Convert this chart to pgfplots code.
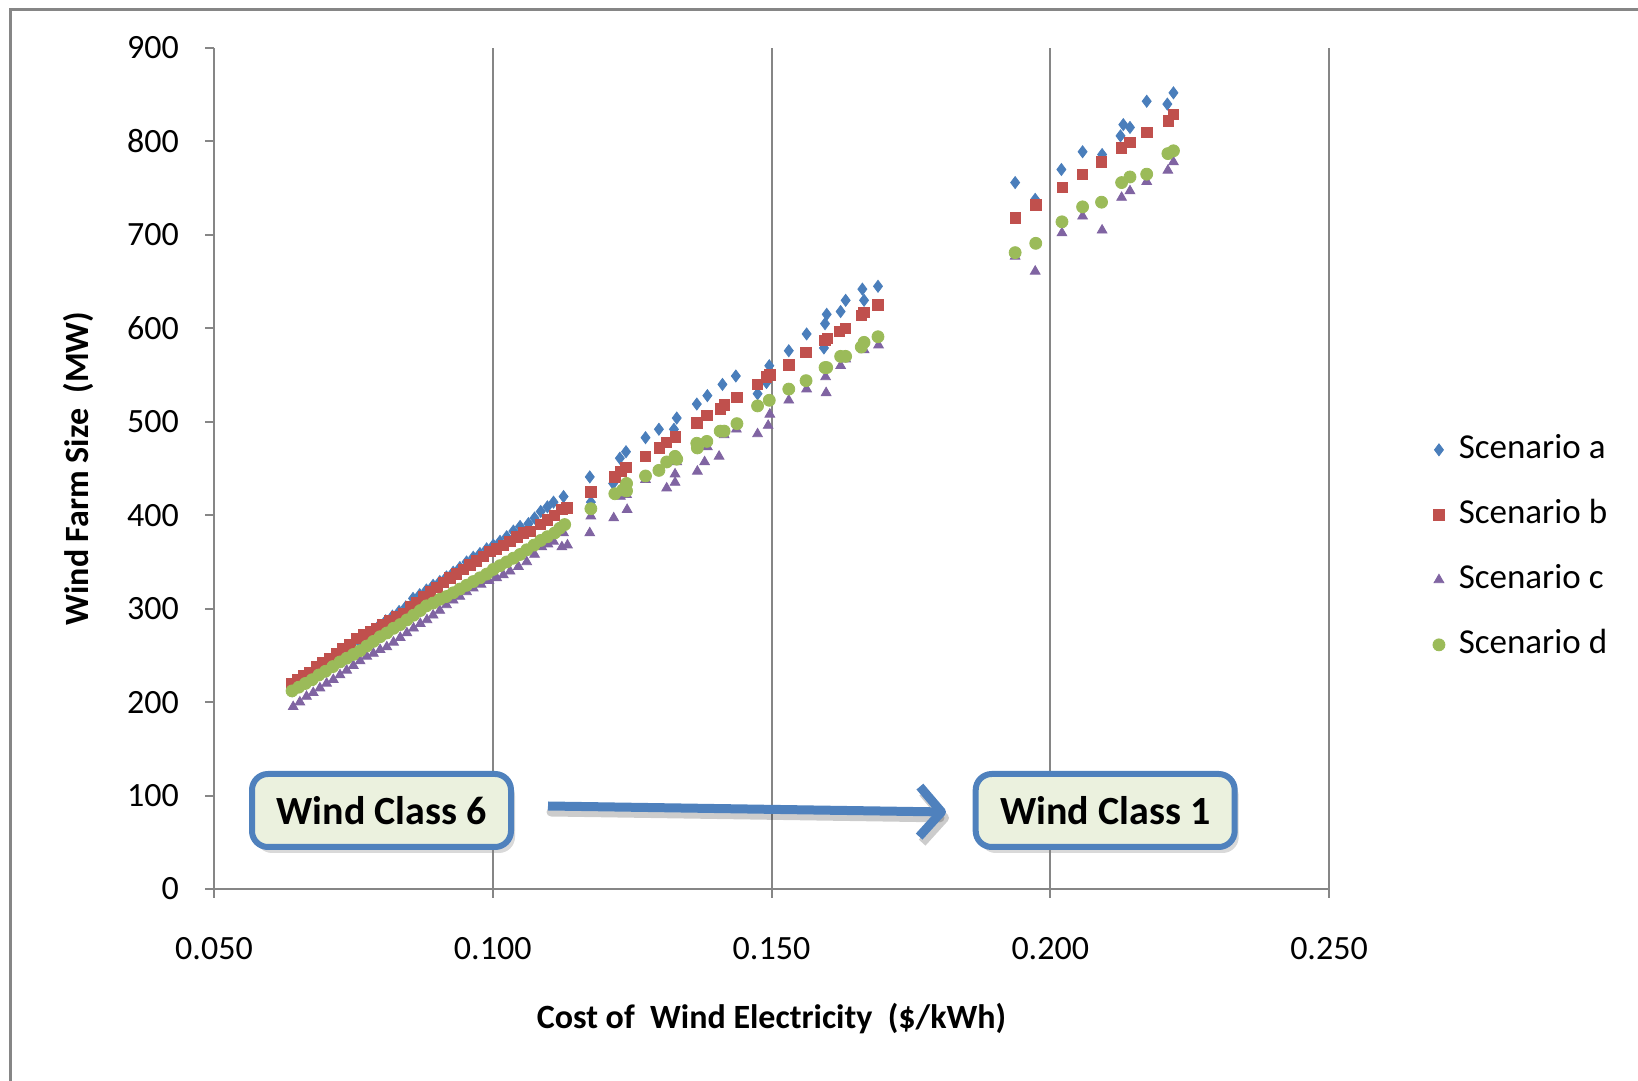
\documentclass[border=0pt]{standalone}
\usepackage{fontspec}
\setmainfont{Carlito}
\usepackage{pgfplots}
\usepackage{pgfplotstable}
\pgfplotsset{compat=1.18}
\usetikzlibrary{arrows.meta,shadows}

\definecolor{sa}{HTML}{4A7EBB}
\definecolor{sb}{HTML}{C0504D}
\definecolor{sc}{HTML}{8064A2}
\definecolor{sd}{HTML}{9BBB59}
\definecolor{gridgray}{HTML}{868686}
\definecolor{boxfill}{HTML}{EBF1DE}
\definecolor{boxblue}{HTML}{4F81BD}

% Scenario a
\pgfplotstableread{
x y
0.0640 212
0.0652 217
0.0664 222
0.0676 227
0.0688 233
0.0700 238
0.0712 243
0.0724 248
0.0736 253
0.0748 259
0.0760 265
0.0772 270
0.0784 276
0.0796 282
0.0808 287
0.0820 292
0.0832 297
0.0844 302
0.0857 311
0.0869 315
0.0881 320
0.0893 325
0.0905 329
0.0917 334
0.0929 339
0.0941 344
0.0953 350
0.0965 355
0.0977 359
0.0989 364
0.1001 368
0.1013 372
0.1025 377
0.1037 383
0.1049 388
0.1064 391
0.1075 397
0.1086 404
0.1098 409
0.1109 414
0.1127 420
0.1174 441
0.1176 414
0.1216 434
0.1228 461
0.1239 468
0.1274 483
0.1298 492
0.1325 492
0.1330 504
0.1366 519
0.1385 528
0.1412 540
0.1436 549
0.1475 530
0.1491 542
0.1496 560
0.1531 576
0.1563 594
0.1594 579
0.1596 605
0.1599 615
0.1624 618
0.1633 630
0.1663 642
0.1666 630
0.1691 645
0.1937 756
0.1973 738
0.2020 770
0.2058 789
0.2093 786
0.2126 806
0.2131 818
0.2143 815
0.2173 843
0.2210 840
0.2221 852
}\scena

% Scenario b
\pgfplotstableread{
x y
0.0640 220
0.0650 224
0.0660 228
0.0672 232
0.0684 238
0.0695 242
0.0708 247
0.0720 252
0.0731 257
0.0744 262
0.0756 268
0.0768 272
0.0780 275
0.0791 279
0.0803 283
0.0815 287
0.0827 291
0.0840 295
0.0852 302
0.0864 307
0.0876 313
0.0888 318
0.0900 323
0.0912 328
0.0923 333
0.0935 337
0.0947 342
0.0959 347
0.0971 351
0.0983 356
0.0995 361
0.1007 364
0.1019 368
0.1031 372
0.1043 377
0.1055 381
0.1068 383
0.1086 390
0.1098 395
0.1111 400
0.1124 406
0.1133 408
0.1176 425
0.1219 441
0.1230 447
0.1239 451
0.1274 463
0.1299 472
0.1312 478
0.1328 484
0.1366 499
0.1384 507
0.1408 514
0.1415 518
0.1438 526
0.1475 540
0.1491 548
0.1497 550
0.1531 561
0.1562 574
0.1596 587
0.1600 589
0.1622 597
0.1633 600
0.1661 614
0.1666 617
0.1691 625
0.1937 718
0.1974 732
0.2022 751
0.2058 765
0.2092 778
0.2128 793
0.2143 799
0.2173 810
0.2212 822
0.2221 829
}\scenb

% Scenario c
\pgfplotstableread{
x y
0.0642 195
0.0654 200
0.0666 206
0.0678 210
0.0690 215
0.0702 220
0.0714 224
0.0726 229
0.0738 234
0.0750 239
0.0762 244
0.0774 249
0.0786 252
0.0798 256
0.0810 259
0.0822 264
0.0834 269
0.0846 274
0.0858 279
0.0870 284
0.0882 288
0.0893 293
0.0905 298
0.0917 304
0.0929 309
0.0941 313
0.0953 318
0.0965 322
0.0979 326
0.0993 330
0.1007 333
0.1019 336
0.1031 340
0.1046 345
0.1061 350
0.1075 358
0.1088 366
0.1099 369
0.1109 372
0.1124 366
0.1127 381
0.1134 368
0.1174 381
0.1176 399
0.1217 397
0.1229 420
0.1240 422
0.1241 406
0.1274 438
0.1312 429
0.1327 435
0.1327 444
0.1330 457
0.1367 447
0.1380 457
0.1385 473
0.1406 463
0.1415 486
0.1437 492
0.1475 487
0.1494 496
0.1497 508
0.1531 523
0.1563 535
0.1597 548
0.1598 531
0.1624 560
0.1633 567
0.1666 577
0.1692 582
0.1937 677
0.1973 661
0.2021 702
0.2058 720
0.2093 705
0.2128 740
0.2143 747
0.2173 757
0.2211 769
0.2221 778
}\scenc

% Scenario d
\pgfplotstableread{
x y
0.0640 212
0.0652 216
0.0664 220
0.0676 224
0.0688 229
0.0700 233
0.0713 238
0.0726 243
0.0738 247
0.0750 251
0.0762 255
0.0774 260
0.0786 265
0.0798 270
0.0810 274
0.0822 279
0.0834 283
0.0846 288
0.0858 293
0.0870 298
0.0881 303
0.0893 306
0.0905 310
0.0917 313
0.0929 317
0.0941 321
0.0953 325
0.0965 329
0.0977 333
0.0989 337
0.1001 342
0.1013 346
0.1025 350
0.1037 354
0.1049 358
0.1061 363
0.1074 368
0.1086 373
0.1098 377
0.1111 381
0.1120 386
0.1129 390
0.1176 407
0.1219 423
0.1233 427
0.1240 434
0.1240 426
0.1274 442
0.1298 448
0.1312 457
0.1327 463
0.1330 460
0.1366 477
0.1367 472
0.1384 479
0.1408 490
0.1415 490
0.1438 498
0.1475 517
0.1496 523
0.1531 535
0.1562 544
0.1596 558
0.1599 558
0.1624 570
0.1633 570
0.1661 580
0.1666 585
0.1691 591
0.1937 681
0.1974 691
0.2021 714
0.2058 730
0.2092 735
0.2128 756
0.2143 762
0.2173 765
0.2211 787
0.2221 790
}\scend

\begin{document}
\begin{tikzpicture}
\useasboundingbox (0,0) rectangle (819pt,540.5pt);
% chart area frame (only left and top edges are inside the picture)
\draw[gridgray, line width=1.5pt] (5pt,-20pt) -- (5pt,535.5pt) -- (840pt,535.5pt);

\begin{axis}[
    at={(107pt,96pt)}, anchor=south west,
    scale only axis, width=557.5pt, height=420.5pt,
    xmin=0.05, xmax=0.25, ymin=0, ymax=900,
    xtick={0.05,0.1,0.15,0.2,0.25},
    ytick={0,100,...,900},
    axis x line*=bottom, axis y line*=left,
    axis line style={gridgray, line width=1pt, -},
    tick align=outside, major tick length=4.5pt,
    tick style={gridgray, line width=1pt},
    xmajorgrids=true,
    major grid style={gridgray, line width=1pt},
    /pgf/number format/assume math mode=true,
    xticklabel style={yshift=-16pt, /pgf/number format/fixed,
        /pgf/number format/fixed zerofill, /pgf/number format/precision=3},
    ticklabel style={font=\fontsize{17}{20}\selectfont},
    yticklabel style={xshift=-9.5pt},
    xlabel={Cost of\ \ Wind Electricity\ \ (\$/kWh)},
    ylabel={Wind Farm Size\ \ (MW)},
    label style={font=\bfseries\fontsize{17}{20}\selectfont},
    xlabel style={at={(axis description cs:0.5,-0.154)}, anchor=center},
    ylabel style={at={(axis description cs:-0.122,0.5)}, anchor=center},
    legend image code/.code={\path (7.7pt,0pt); \draw[#1] plot coordinates {(0pt,0pt)};},
    legend cell align=left,
    legend style={draw=none, fill=none, at={(axis description cs:1.0875,0.550)},
        anchor=north west, font=\fontsize{17.5}{20}\selectfont,
        nodes={inner sep=2pt, text height=12pt, text depth=3pt},
        row sep=13.5pt},
]
\addplot[only marks, mark=diamond*, mark size=3pt, color=sa] table {\scena};
\addplot[only marks, mark=square*, mark size=2.6pt, color=sb] table {\scenb};
\addplot[only marks, mark=triangle*, mark size=2.8pt, color=sc] table {\scenc};
\addplot[only marks, mark=*, mark size=3pt, color=sd] table {\scend};
\legend{Scenario a, Scenario b, Scenario c, Scenario d}
\end{axis}

% arrow between wind classes
\draw[black, opacity=0.2, line width=4.5pt, line cap=round,
      -{Straight Barb[length=11pt, width=25pt, line join=round]}]
     (275.5pt,134.5pt) -- (474.5pt,131.5pt);
\draw[boxblue, line width=4.5pt,
      -{Straight Barb[length=11pt, width=25pt, line join=round]}]
     (274pt,137.5pt) -- (473pt,134.5pt);

% class boxes
\node[draw=boxblue, line width=3pt, fill=boxfill, rounded corners=8pt,
      minimum width=129.5pt, minimum height=36.5pt,
      drop shadow={opacity=0.3, shadow xshift=2pt, shadow yshift=-3pt},
      font=\bfseries\fontsize{20}{24}\selectfont]
     at (190.75pt,135.25pt) {Wind Class 6};
\node[draw=boxblue, line width=3pt, fill=boxfill, rounded corners=8pt,
      minimum width=129.5pt, minimum height=36.5pt,
      drop shadow={opacity=0.3, shadow xshift=2pt, shadow yshift=-3pt},
      font=\bfseries\fontsize{20}{24}\selectfont]
     at (552.6pt,135.25pt) {Wind Class 1};
\end{tikzpicture}
\end{document}
